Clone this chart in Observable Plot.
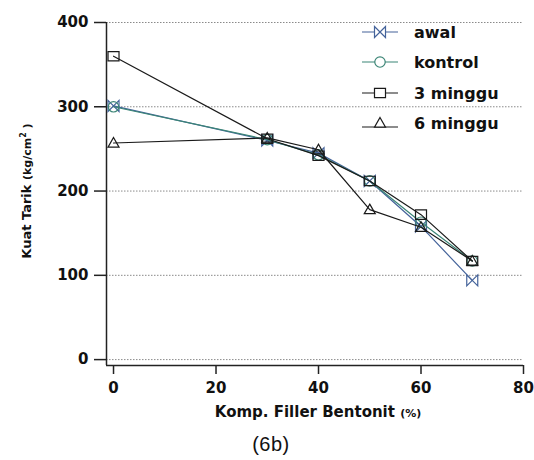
<!DOCTYPE html>
<html>
<head>
<meta charset="utf-8">
<script src="https://cdn.jsdelivr.net/npm/d3@7"></script>
<script src="https://cdn.jsdelivr.net/npm/@observablehq/plot@0.6"></script>
<style>
  html, body { margin: 0; padding: 0; background: #fff; }
  #chart svg { display: block; }
</style>
</head>
<body>
<div id="chart"></div>
<script>
// ---- data ----
const filler = [0, 30, 40, 50, 60, 70];
const awal = [301, 260, 245, 212, 158, 94];
const kontrol = [300, 261, 243, 212, 163, 117];
const minggu3 = [360, 262, 242, 212, 172, 117];
const minggu6 = [257, 263, 249, 178, 157, 117];
const seriesNames = ["awal", "kontrol", "3 minggu", "6 minggu"];
const xTicks = [0, 20, 40, 60, 80];
const yTicks = [0, 100, 200, 300, 400];
const xTitle = "Komp. Filler Bentonit ";
const xUnit = "(%)";
const yTitle = "Kuat Tarik ";
const caption = "(6b)";

// ---- symbols ----
const bowtie = {draw(ctx, size) {const r = Math.sqrt(size / Math.PI); ctx.moveTo(-r, -r); ctx.lineTo(-r, r); ctx.lineTo(r, -r); ctx.lineTo(r, r); ctx.closePath();}};
const circle = {draw(ctx, size) {const r = Math.sqrt(size / Math.PI) * 0.95; ctx.moveTo(r, 0); ctx.arc(0, 0, r, 0, 2 * Math.PI);}};
const square = {draw(ctx, size) {const r = Math.sqrt(size / Math.PI); ctx.rect(-r, -r * 0.85, 2 * r, 1.7 * r);}};
const triangle = {draw(ctx, size) {const r = Math.sqrt(size / Math.PI); ctx.moveTo(0, -r); ctx.lineTo(r, r * 0.75); ctx.lineTo(-r, r * 0.75); ctx.closePath();}};

const styles = [
  {name: seriesNames[0], values: awal, color: "#44639a", symbol: bowtie},
  {name: seriesNames[1], values: kontrol, color: "#3b8576", symbol: circle},
  {name: seriesNames[2], values: minggu3, color: "#1a1a1a", symbol: square},
  {name: seriesNames[3], values: minggu6, color: "#1a1a1a", symbol: triangle}
];

const rows = styles.flatMap(s => filler.map((x, i) => ({x, y: s.values[i], series: s.name})));

const xDomain = [-1.37, 80];
const yDomain = [-7, 400];

const marks = [
  Plot.gridY(yTicks, {stroke: "#8a8a8a", strokeOpacity: 1, strokeDasharray: "1.5,1.5", strokeWidth: 1}),
  Plot.axisY(yTicks, {tickSize: 12, tickPadding: 6, label: null, stroke: "#222", strokeWidth: 1.5}),
  Plot.axisX(xTicks, {tickSize: 9, tickPadding: 8, label: null, stroke: "#222", strokeWidth: 1.5}),
  Plot.ruleX([xDomain[0]], {stroke: "#222", strokeWidth: 1.5}),
  Plot.ruleY([yDomain[0]], {stroke: "#222", strokeWidth: 1.5})
];
for (const s of styles) {
  const data = rows.filter(d => d.series === s.name);
  marks.push(Plot.line(data, {x: "x", y: "y", stroke: s.color, strokeWidth: 1.2}));
  marks.push(Plot.dot(data, {x: "x", y: "y", stroke: s.color, strokeWidth: 1.2, fill: "none", r: 5.5, symbol: s.symbol}));
}

const chart = Plot.plot({
  width: 534,
  height: 460,
  marginLeft: 106,
  marginRight: 11,
  marginTop: 22,
  marginBottom: 95,
  x: {domain: xDomain},
  y: {domain: yDomain},
  style: {fontFamily: "DejaVu Sans", fontSize: "15px", fontWeight: "bold", color: "#111", background: "#fff"},
  marks
});
document.getElementById("chart").appendChild(chart);

// ---- titles & legend ----
const svg = d3.select(chart);
const xt = svg.append("text").attr("x", 318).attr("y", 417).attr("text-anchor", "middle")
  .attr("font-family", "DejaVu Sans").attr("font-weight", "bold").attr("font-size", 15).attr("fill", "#111");
xt.append("tspan").text(xTitle);
xt.append("tspan").attr("font-size", 11).text(xUnit);

const yt = svg.append("text").attr("transform", "translate(31,191) rotate(-90)").attr("text-anchor", "middle")
  .attr("font-family", "DejaVu Sans").attr("font-weight", "bold").attr("font-size", 13).attr("fill", "#111");
yt.append("tspan").text(yTitle);
yt.append("tspan").attr("font-size", 11).text("(kg/cm");
yt.append("tspan").attr("font-size", 8).attr("dy", -5).text("2");
yt.append("tspan").attr("font-size", 11).attr("dy", 5).text(" )");

svg.append("text").attr("x", 271).attr("y", 451).attr("text-anchor", "middle")
  .attr("font-family", "Liberation Sans").attr("font-weight", "normal").attr("font-size", 20)
  .attr("letter-spacing", 0.5).attr("fill", "#111").text(caption);

const legendY = [32, 62, 93, 123];
styles.forEach((s, i) => {
  const g = svg.append("g").attr("transform", `translate(0,${legendY[i]})`);
  const lineY = s.symbol === triangle ? 4 : 0;
  g.append("line").attr("x1", 362).attr("x2", 398).attr("y1", lineY).attr("y2", lineY).attr("stroke", s.color).attr("stroke-width", 1.2);
  g.append("path").attr("transform", "translate(380,0)").attr("d", d3.symbol(s.symbol, 5.5 * 5.5 * Math.PI)())
    .attr("fill", "#fff").attr("stroke", s.color).attr("stroke-width", 1.2);
  g.append("text").attr("x", 414).attr("y", 0).attr("dy", "0.35em").attr("text-anchor", "start")
    .attr("font-family", "DejaVu Sans").attr("font-weight", "bold").attr("font-size", 16).attr("fill", "#111").text(s.name);
});
</script>
</body>
</html>
